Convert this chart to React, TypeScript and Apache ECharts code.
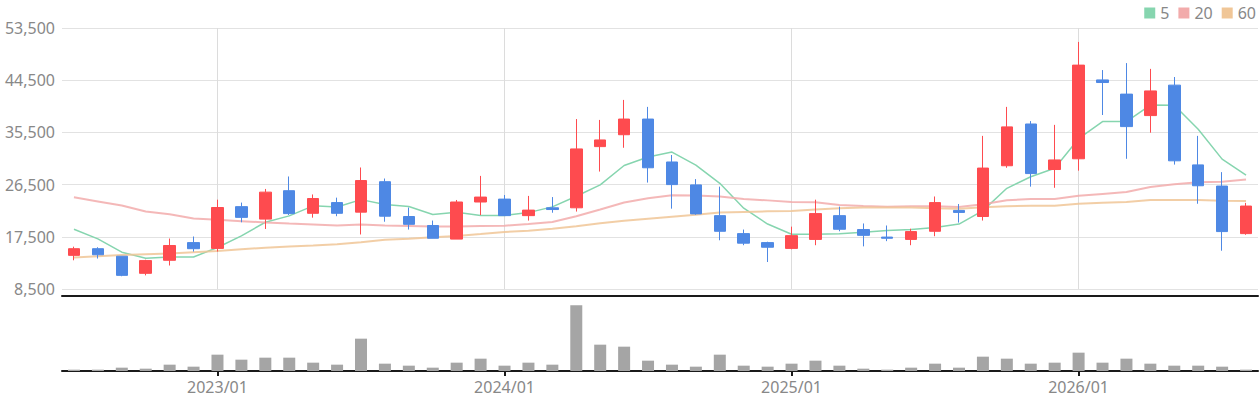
import React, { useEffect, useRef } from 'react';
import * as echarts from 'echarts';

const categories = [
  '2022/07', '2022/08', '2022/09', '2022/10', '2022/11', '2022/12',
  '2023/01', '2023/02', '2023/03', '2023/04', '2023/05', '2023/06', '2023/07', '2023/08', '2023/09', '2023/10', '2023/11', '2023/12',
  '2024/01', '2024/02', '2024/03', '2024/04', '2024/05', '2024/06', '2024/07', '2024/08', '2024/09', '2024/10', '2024/11', '2024/12',
  '2025/01', '2025/02', '2025/03', '2025/04', '2025/05', '2025/06', '2025/07', '2025/08', '2025/09', '2025/10', '2025/11', '2025/12',
  '2026/01', '2026/02', '2026/03', '2026/04', '2026/05', '2026/06', '2026/07', '2026/08',
];

const openValues = [14300, 15450, 14150, 11200, 13450, 16500, 15500, 22700, 20550, 25450, 21550, 23400, 21750, 27000, 21000, 19450, 17100, 23500, 24000, 21150, 22500, 22500, 33050, 35100, 37800, 30400, 26450, 21150, 18050, 16500, 15500, 17050, 21150, 18750, 17450, 17050, 18450, 22050, 21000, 29750, 36950, 29100, 30950, 44550, 42100, 38400, 43650, 29900, 26250, 18050];
const closeValues = [15450, 14400, 10850, 13400, 16000, 15450, 22550, 20850, 25200, 21500, 24100, 21550, 27200, 21050, 19650, 17250, 23500, 24350, 21150, 22100, 22200, 32650, 34200, 37800, 29400, 26500, 21450, 18450, 16400, 15700, 17700, 21500, 18800, 17750, 17250, 18400, 23400, 21700, 29350, 36450, 28400, 30750, 47100, 44100, 36500, 42650, 30600, 26300, 18400, 22800];
const lowValues = [13450, 13750, 10700, 10850, 12550, 14950, 14950, 20000, 18850, 21250, 20800, 21050, 17900, 20100, 18750, 17250, 17100, 21250, 21150, 20300, 21650, 21850, 28750, 32850, 26850, 22350, 21300, 16900, 16050, 13150, 15350, 16050, 18450, 15850, 16750, 16050, 17600, 19950, 20300, 29400, 26150, 25950, 28900, 38500, 30950, 35450, 29950, 23200, 15100, 17850];
const highValues = [15800, 15700, 14150, 13550, 17200, 17550, 23900, 23400, 25750, 27900, 24800, 24250, 29450, 27550, 22550, 20300, 23850, 28000, 24700, 24550, 24350, 37800, 37650, 41100, 39900, 31600, 27450, 26150, 18750, 16650, 19250, 23900, 22700, 19800, 19450, 18900, 24450, 23150, 34900, 39900, 37450, 36800, 51100, 46250, 47450, 46450, 45050, 34900, 28650, 23350];

const ma5Values = [18800, 17150, 14850, 13800, 14020, 14020, 15650, 17650, 20010, 21110, 22840, 22640, 23910, 23080, 22710, 21340, 21730, 21160, 21180, 21670, 22660, 24490, 26460, 29790, 31250, 32110, 29870, 26720, 22440, 19700, 17940, 17950, 18020, 18290, 18600, 18740, 19120, 19700, 22020, 25860, 27860, 29330, 34410, 37360, 37370, 40220, 40190, 36030, 30890, 28150];
const ma20Values = [24300, 23600, 22900, 21850, 21400, 20650, 20430, 20200, 19980, 19800, 19630, 19460, 19600, 19460, 19370, 19260, 19260, 19360, 19420, 19700, 20050, 21050, 22200, 23420, 24150, 24650, 24600, 24430, 24000, 23780, 23480, 23450, 22980, 22790, 22670, 22780, 22760, 22630, 23120, 23820, 24000, 24000, 24570, 24900, 25220, 26080, 26540, 26910, 26990, 27400];
const ma60Values = [13930, 14140, 14370, 14490, 14600, 14830, 15060, 15350, 15630, 15830, 16000, 16200, 16550, 16980, 17180, 17420, 17650, 17980, 18330, 18560, 18900, 19300, 19820, 20280, 20630, 20970, 21320, 21670, 21790, 21900, 21960, 22190, 22420, 22540, 22540, 22540, 22420, 22350, 22580, 22750, 22870, 22870, 23210, 23390, 23500, 23850, 23850, 23850, 23730, 23670];

const volumeValues = [20, 20, 50, 35, 95, 65, 245, 170, 200, 200, 125, 95, 485, 110, 80, 50, 125, 185, 80, 125, 95, 985, 395, 365, 155, 95, 65, 245, 80, 65, 110, 155, 80, 35, 20, 50, 110, 50, 215, 185, 110, 125, 275, 125, 185, 110, 80, 80, 65, 20];

const UP = '#fe4b4f';
const DOWN = '#4e88e4';
const C5 = '#86d5af';
const C20 = '#f2abab';
const C60 = '#f0c697';

export default function App() {
  const ref = useRef<HTMLDivElement>(null);

  useEffect(() => {
    if (!ref.current) return;
    const chart = echarts.init(ref.current, null, { renderer: 'svg' });
    const isJan = (i: number) => categories[i].endsWith('/01');
    const candleData = categories.map((_, i) => [openValues[i], closeValues[i], lowValues[i], highValues[i]]);

    chart.setOption({
      animation: false,
      textStyle: { fontFamily: 'Noto Sans' },
      legend: {
        right: 4,
        top: 5,
        padding: 0,
        itemWidth: 11,
        itemHeight: 11,
        itemGap: 9,
        textStyle: { fontSize: 16, color: '#888', fontFamily: 'Noto Sans' },
        data: [
          { name: '5', icon: 'rect' },
          { name: '20', icon: 'rect' },
          { name: '60', icon: 'rect' },
        ],
      },
      grid: [
        { left: 62, right: 2, top: 28, height: 261 },
        { left: 62, right: 2, top: 296, height: 75 },
      ],
      xAxis: [
        {
          type: 'category',
          gridIndex: 0,
          data: categories,
          boundaryGap: true,
          offset: 7,
          axisLine: { show: true, lineStyle: { color: '#1a1a1a', width: 2 } },
          axisTick: { show: false },
          axisLabel: { show: false },
          splitLine: {
            show: true,
            interval: (i: number) => isJan(i),
            alignWithLabel: true,
            lineStyle: { color: '#dcdcdc' },
          },
        },
        {
          type: 'category',
          gridIndex: 1,
          data: categories,
          boundaryGap: true,
          axisLine: { show: true, lineStyle: { color: '#1a1a1a', width: 2 } },
          axisTick: {
            show: true,
            alignWithLabel: true,
            interval: (i: number) => isJan(i),
            length: 5,
            lineStyle: { color: '#1a1a1a', width: 2 },
          },
          axisLabel: {
            interval: (i: number) => isJan(i),
            fontSize: 16,
            color: '#888',
            margin: 8,
            fontFamily: 'Noto Sans',
          },
          splitLine: { show: false },
        },
      ],
      yAxis: [
        {
          type: 'value',
          gridIndex: 0,
          min: 8500,
          max: 53500,
          interval: 9000,
          axisLine: { show: false },
          axisTick: { show: false },
          axisLabel: {
            fontSize: 16,
            color: '#888',
            margin: 7,
            fontFamily: 'Noto Sans',
            formatter: (v: number) => v.toLocaleString('en-US'),
          },
          splitLine: { show: true, lineStyle: { color: '#e2e2e2' } },
        },
        {
          type: 'value',
          gridIndex: 1,
          min: 0,
          max: 1125,
          show: false,
          splitLine: { show: false },
        },
      ],
      series: [
        {
          type: 'candlestick',
          name: 'price',
          xAxisIndex: 0,
          yAxisIndex: 0,
          data: candleData,
          barWidth: 12,
          z: 3,
          itemStyle: {
            color: UP,
            color0: DOWN,
            borderColor: UP,
            borderColor0: DOWN,
            borderWidth: 1,
          },
        },
        {
          type: 'line',
          name: '5',
          data: ma5Values,
          xAxisIndex: 0,
          yAxisIndex: 0,
          symbol: 'none',
          z: 2,
          color: C5,
          lineStyle: { width: 1.5, color: C5 },
        },
        {
          type: 'line',
          name: '20',
          data: ma20Values,
          xAxisIndex: 0,
          yAxisIndex: 0,
          symbol: 'none',
          z: 2,
          color: C20,
          lineStyle: { width: 2, color: C20, opacity: 0.85 },
        },
        {
          type: 'line',
          name: '60',
          data: ma60Values,
          xAxisIndex: 0,
          yAxisIndex: 0,
          symbol: 'none',
          z: 2,
          color: C60,
          lineStyle: { width: 2, color: C60, opacity: 0.85 },
        },
        {
          type: 'bar',
          name: 'volume',
          data: volumeValues,
          xAxisIndex: 1,
          yAxisIndex: 1,
          barWidth: 12,
          itemStyle: { color: '#a5a5a5' },
        },
      ],
    });

    return () => chart.dispose();
  }, []);

  return (
    <div
      ref={ref}
      style={{ position: 'absolute', left: 0, top: 0, width: 1260, height: 400 }}
    />
  );
}
